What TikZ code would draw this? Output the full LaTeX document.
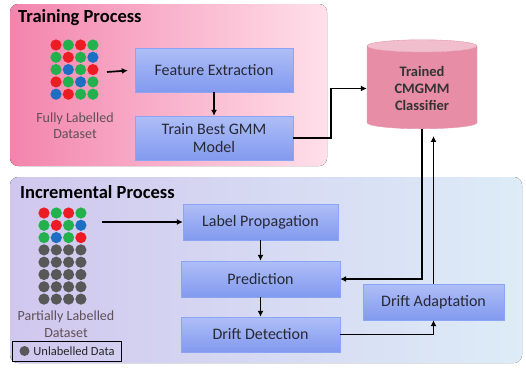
\documentclass[tikz,border=0pt]{standalone}
\usepackage{fontspec}
\setmainfont{Carlito}
\usetikzlibrary{arrows.meta,shapes.geometric}
\definecolor{dotred}{RGB}{236,28,36}
\definecolor{dotgreen}{RGB}{34,177,76}
\definecolor{dotblue}{RGB}{30,110,195}
\definecolor{dotgray}{RGB}{88,88,88}
\definecolor{trainleft}{RGB}{243,132,172}
\definecolor{trainright}{RGB}{255,224,234}
\definecolor{incleft}{RGB}{208,199,238}
\definecolor{incright}{RGB}{221,236,247}
\definecolor{stagetop}{RGB}{174,190,247}
\definecolor{stagebot}{RGB}{130,154,239}
\definecolor{stageline}{RGB}{140,164,244}
\definecolor{stagetext}{RGB}{40,40,52}
\definecolor{cylbody}{RGB}{231,142,166}
\definecolor{cylend}{RGB}{241,190,205}
\definecolor{cylline}{RGB}{226,150,172}
\definecolor{captext}{RGB}{95,80,88}
\begin{document}
\begin{tikzpicture}[x=1pt,y=-1pt,
  panel/.style={rounded corners=8pt},
  title/.style={anchor=west,inner sep=0pt,font=\fontsize{18.5}{20}\selectfont\bfseries},
  stage/.style={draw=stageline,top color=stagetop,bottom color=stagebot,
    minimum width=158pt,minimum height=44pt,inner sep=2pt,align=center,
    text=stagetext,font=\fontsize{16}{18.5}\selectfont},
  caption/.style={align=center,inner sep=0pt,text=captext,font=\fontsize{14}{16.5}\selectfont},
  flow/.style={line width=1.7pt,-{Latex[length=6pt,width=6pt]}},
  dot/.style={radius=5.6pt}]
\useasboundingbox (0,0) rectangle (526,367);
\fill[panel,left color=trainleft,right color=trainright] (10,4) rectangle (327,166);
\fill[panel,left color=incleft,right color=incright] (10,177) rectangle (522,363);
\node[title] (traintitle) at (18,18) {Training Process};
\node[title] (inctitle) at (20,192) {Incremental Process};
% fully labelled grid
\foreach \c [count=\j from 0] in {dotred,dotgreen,dotred,dotgreen} \fill[\c] (56+12.3*\j,45) circle [dot];
\foreach \c [count=\j from 0] in {dotgreen,dotred,dotgreen,dotblue} \fill[\c] (56+12.3*\j,57.3) circle [dot];
\foreach \c [count=\j from 0] in {dotgreen,dotblue,dotgreen,dotred} \fill[\c] (56+12.3*\j,69.6) circle [dot];
\foreach \c [count=\j from 0] in {dotred,dotgreen,dotblue,dotgreen} \fill[\c] (56+12.3*\j,81.9) circle [dot];
\foreach \c [count=\j from 0] in {dotblue,dotred,dotgreen,dotgreen} \fill[\c] (56+12.3*\j,94.2) circle [dot];
\node[caption] (fulllbl) at (75,125.5) {Fully Labelled\\Dataset};
\coordinate (fullgrid) at (107,72);
% partially labelled grid
\foreach \c [count=\j from 0] in {dotred,dotgreen,dotred,dotgreen} \fill[\c] (44+12.3*\j,213) circle [dot];
\foreach \c [count=\j from 0] in {dotgreen,dotred,dotgreen,dotblue} \fill[\c] (44+12.3*\j,225.3) circle [dot];
\foreach \c [count=\j from 0] in {dotgreen,dotblue,dotgreen,dotred} \fill[\c] (44+12.3*\j,237.6) circle [dot];
\foreach \r in {3,...,7}
  \foreach \j in {0,...,3} \fill[dotgray] (44+12.3*\j,213+12.3*\r) circle [dot];
\node[caption] (partlbl) at (66,324) {Partially Labelled\\Dataset};
\coordinate (partgrid) at (102,222);
\draw[line width=0.8pt] (12,341) rectangle (121,361);
\fill[dotgray] (24.5,351) circle [radius=5pt];
\node[caption,text=black!85,font=\fontsize{12.5}{14}\selectfont] (legend) at (74,351) {Unlabelled Data};
% stages
\node[stage] (fe) at (214,70) {Feature Extraction};
\node[stage] (gmm) at (214,138) {Train Best GMM\\Model};
\node[cylinder,shape border rotate=90,aspect=0.2,draw=cylline,cylinder uses custom fill,
  cylinder body fill=cylbody,cylinder end fill=cylend,minimum width=110pt,minimum height=89pt,
  align=center,font=\fontsize{14.5}{17}\selectfont\bfseries,text=black!80] (clf) at (422,88.5) {Trained\\CMGMM\\Classifier};
\node[stage,minimum width=155pt,minimum height=36pt] (lp) at (260.5,222) {Label Propagation};
\node[stage,minimum width=159pt,minimum height=36pt] (pred) at (260.5,279) {Prediction};
\node[stage,minimum width=159pt,minimum height=35pt] (dd) at (260.5,334.5) {Drift Detection};
\node[stage,minimum width=141pt,minimum height=36pt] (da) at (433.5,302) {Drift Adaptation};
% connectors
\draw[flow,shorten >=7pt] (fullgrid) -- (fe.west);
\draw[flow] (fe.south) -- (gmm.north);
\draw[flow] (gmm.east) -- ++(38,0) |- (clf.west);
\draw[flow] (partgrid) -- (lp.west);
\draw[flow] (lp.south) -- (pred.north);
\draw[flow] (pred.south) -- (dd.north);
\draw[flow] (clf.south) |- (pred.east);
\draw[flow] (dd.east) -| (da.south);
\draw[flow,shorten >=7pt] (da.north) -- (da.north |- clf.south);
\end{tikzpicture}
\end{document}
